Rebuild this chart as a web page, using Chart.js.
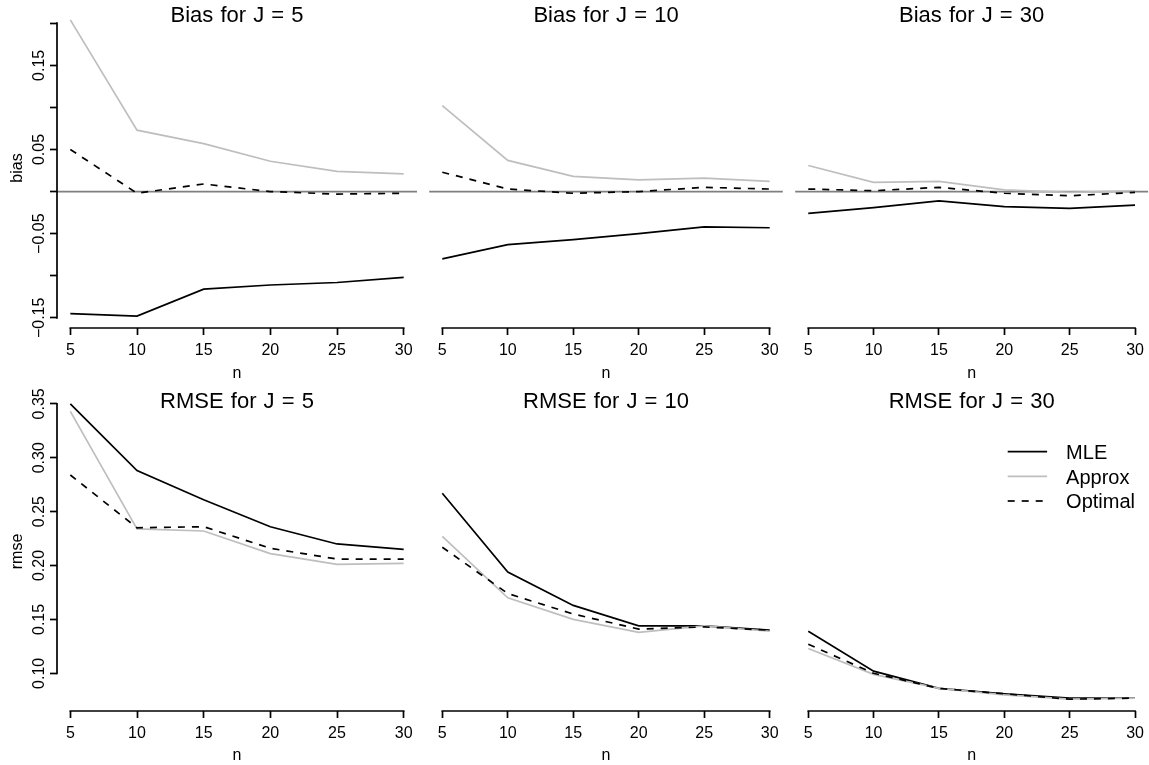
<!DOCTYPE html>
<html>
<head>
<meta charset="utf-8">
<script src="https://cdn.jsdelivr.net/npm/chart.js@4/dist/chart.umd.min.js"></script>
<style>
  body { margin: 0; background: #fff; width: 1149px; height: 765px; position: relative; overflow: hidden;
         font-family: "Liberation Sans", Arial, Helvetica, sans-serif; }
  canvas { position: absolute; }
  .main { position: absolute; font-size: 22px; line-height: 22px; white-space: nowrap;
          transform: translateX(-50%); word-spacing: 1px; color: #000; }
</style>
</head>
<body>
<script>
Chart.defaults.font.family = "'Liberation Sans', Arial, Helvetica, sans-serif";
Chart.defaults.color = '#000';

// sample sizes (x axis) and number of groups (one column per J)
const nVals = [5, 10, 15, 20, 25, 30];
const jVals = [5, 10, 30];
const seriesNames = ['MLE', 'Approx', 'Optimal'];

// bias, one row per J
const biasMle = [
  [-0.145, -0.148, -0.116, -0.111, -0.108, -0.102],
  [-0.080, -0.063, -0.057, -0.050, -0.042, -0.043],
  [-0.026, -0.019, -0.011, -0.018, -0.020, -0.016]
];
const biasApprox = [
  [0.204, 0.073, 0.057, 0.036, 0.024, 0.021],
  [0.102, 0.037, 0.018, 0.014, 0.016, 0.012],
  [0.031, 0.011, 0.012, 0.002, -0.001, 0.001]
];
const biasOptimal = [
  [0.050, -0.002, 0.009, 0.000, -0.003, -0.002],
  [0.023, 0.003, -0.002, 0.000, 0.005, 0.003],
  [0.003, 0.001, 0.005, -0.002, -0.005, -0.001]
];

// rmse, one row per J
const rmseMle = [
  [0.350, 0.288, 0.261, 0.236, 0.220, 0.215],
  [0.267, 0.194, 0.163, 0.144, 0.144, 0.140],
  [0.139, 0.102, 0.086, 0.081, 0.077, 0.077]
];
const rmseApprox = [
  [0.343, 0.234, 0.232, 0.211, 0.201, 0.202],
  [0.227, 0.170, 0.150, 0.138, 0.144, 0.139],
  [0.123, 0.099, 0.086, 0.080, 0.076, 0.077]
];
const rmseOptimal = [
  [0.284, 0.235, 0.236, 0.216, 0.206, 0.206],
  [0.217, 0.174, 0.155, 0.141, 0.143, 0.140],
  [0.127, 0.100, 0.086, 0.081, 0.076, 0.077]
];

// axis ticks
const biasTicks = [-0.15, -0.10, -0.05, 0, 0.05, 0.10, 0.15, 0.20];
const biasTickLabels = ['\u22120.15', '', '\u22120.05', '', '0.05', '', '0.15', ''];
const rmseTicks = [0.10, 0.15, 0.20, 0.25, 0.30, 0.35];
const rmseTickLabels = ['0.10', '0.15', '0.20', '0.25', '0.30', '0.35'];

// R style axis range: data range stretched by 4% each side
function padRange(vals) {
  const lo = Math.min(...vals), hi = Math.max(...vals), d = (hi - lo) * 0.04;
  return [lo - d, hi + d];
}
const flat = arrs => arrs.flat(2);

const measures = [
  { series: [biasMle, biasApprox, biasOptimal], ticks: biasTicks, labels: biasTickLabels,
    ylab: 'bias', main: 'Bias', zero: true },
  { series: [rmseMle, rmseApprox, rmseOptimal], ticks: rmseTicks, labels: rmseTickLabels,
    ylab: 'rmse', main: 'RMSE', zero: false }
];

// panel boxes
const cols = [
  { left: 0,   width: 420, padL: 0,   padR: 3,   yAxisW: 57 },
  { left: 420, width: 366, padL: 9.2, padR: 3.2, yAxisW: 0 },
  { left: 786, width: 363, padL: 9.2, padR: 0.9, yAxisW: 0 }
];
const rows = [
  { top: 0,   height: 383, padT: 8, axisH: 55, yLabPad: -9.7, mainTop: 4.3 },
  { top: 383, height: 382, padT: 9, axisH: 54, yLabPad: -5.1, mainTop: 389.5 }
];

const FS = 16;
const lineStyles = [
  { color: '#000000', dash: [] },
  { color: '#bebebe', dash: [] },
  { color: '#000000', dash: [7, 7] }
];
const LW = 1.7;

// axis lines only between first and last tick, like base R
const rAxes = {
  id: 'rAxes',
  afterDraw(chart) {
    const ctx = chart.ctx;
    ctx.save();
    ctx.strokeStyle = '#000';
    ctx.lineWidth = LW;
    ctx.lineCap = 'square';
    const x = chart.scales.x;
    const xt = x.ticks;
    ctx.beginPath();
    ctx.moveTo(x.getPixelForValue(xt[0].value), x.top);
    ctx.lineTo(x.getPixelForValue(xt[xt.length - 1].value), x.top);
    ctx.stroke();
    const y = chart.scales.y;
    if (y.options.display) {
      const yt = y.ticks;
      ctx.beginPath();
      ctx.moveTo(y.right, y.getPixelForValue(yt[0].value));
      ctx.lineTo(y.right, y.getPixelForValue(yt[yt.length - 1].value));
      ctx.stroke();
    }
    ctx.restore();
  }
};

// horizontal reference at zero
const zeroLine = {
  id: 'zeroLine',
  beforeDatasetsDraw(chart) {
    const { ctx, chartArea } = chart;
    const y0 = chart.scales.y.getPixelForValue(0);
    ctx.save();
    ctx.strokeStyle = '#7f7f7f';
    ctx.lineWidth = LW;
    ctx.beginPath();
    ctx.moveTo(chartArea.left, y0);
    ctx.lineTo(chartArea.right, y0);
    ctx.stroke();
    ctx.restore();
  }
};

// legend inside the plot, top right
const insetLegend = {
  id: 'insetLegend',
  afterDraw(chart) {
    const { ctx, chartArea } = chart;
    const x0 = chartArea.right - 140.4, x1 = chartArea.right - 101, xt = chartArea.right - 82;
    const rowY = [59.7, 84.3, 109];
    ctx.save();
    ctx.font = "20px 'Liberation Sans', Arial, sans-serif";
    ctx.fillStyle = '#000';
    ctx.textBaseline = 'alphabetic';
    chart.data.datasets.forEach((ds, k) => {
      const y = chartArea.top + rowY[k];
      ctx.strokeStyle = ds.borderColor;
      ctx.lineWidth = ds.borderWidth;
      ctx.setLineDash(ds.borderDash);
      ctx.beginPath();
      ctx.moveTo(x0, y);
      ctx.lineTo(x1, y);
      ctx.stroke();
      ctx.setLineDash([]);
      ctx.fillText(ds.label, xt, y + 7.2);
    });
    ctx.restore();
  }
};

const xlim = padRange(nVals);

function makePanel(ri, ci) {
  const r = rows[ri], c = cols[ci], m = measures[ri];
  const ylim = padRange(flat(m.series));

  const canvas = document.createElement('canvas');
  canvas.width = c.width;
  canvas.height = r.height;
  canvas.style.left = c.left + 'px';
  canvas.style.top = r.top + 'px';
  document.body.appendChild(canvas);

  const datasets = m.series.map((s, k) => ({
    label: seriesNames[k],
    data: nVals.map((n, i) => ({ x: n, y: s[ci][i] })),
    borderColor: lineStyles[k].color,
    borderDash: lineStyles[k].dash,
    borderWidth: LW,
    pointRadius: 0,
    tension: 0,
    fill: false,
    order: 3 - k
  }));

  const tickGrid = { drawOnChartArea: false, drawTicks: true, tickLength: 7, tickWidth: LW, tickColor: '#000' };

  const plugins = [rAxes];
  if (m.zero) plugins.push(zeroLine);
  if (ri === 1 && ci === 2) plugins.push(insetLegend);

  const chart = new Chart(canvas, {
    type: 'line',
    data: { datasets },
    options: {
      responsive: false,
      animation: false,
      events: [],
      layout: { padding: { left: c.padL, right: c.padR, top: r.padT, bottom: 0 } },
      plugins: { legend: { display: false }, tooltip: { enabled: false } },
      scales: {
        x: {
          type: 'linear', position: 'bottom', min: xlim[0], max: xlim[1], bounds: 'data',
          afterBuildTicks: s => { s.ticks = nVals.map(v => ({ value: v })); },
          afterFit: s => { s.height = r.axisH; s.paddingLeft = 0; s.paddingRight = 0; },
          border: { display: false },
          grid: tickGrid,
          ticks: { autoSkip: false, minRotation: 0, maxRotation: 0, padding: 5.9,
                   font: { size: FS }, color: '#000', callback: v => String(v) },
          title: { display: true, text: 'n', font: { size: FS }, color: '#000', padding: { top: 0, bottom: 0 } }
        },
        y: {
          type: 'linear', position: 'left', display: ci === 0, min: ylim[0], max: ylim[1], bounds: 'data',
          afterBuildTicks: s => { s.ticks = m.ticks.map(v => ({ value: v })); },
          afterFit: s => { s.width = c.yAxisW; s.paddingTop = 0; s.paddingBottom = 0; },
          border: { display: false },
          grid: tickGrid,
          ticks: { autoSkip: false, minRotation: 90, maxRotation: 90, crossAlign: 'center',
                   padding: r.yLabPad, font: { size: FS }, color: '#000',
                   callback: (v, i) => m.labels[i] },
          title: { display: true, text: m.ylab, font: { size: FS }, color: '#000', padding: { top: 8, bottom: 0 } }
        }
      }
    },
    plugins
  });

  // panel heading
  const ca = chart.chartArea;
  const main = document.createElement('div');
  main.className = 'main';
  main.textContent = m.main + ' for J = ' + jVals[ci];
  main.style.left = (c.left + (ca.left + ca.right) / 2) + 'px';
  main.style.top = r.mainTop + 'px';
  document.body.appendChild(main);
}

for (let ri = 0; ri < rows.length; ri++) {
  for (let ci = 0; ci < cols.length; ci++) makePanel(ri, ci);
}
</script>
</body>
</html>
